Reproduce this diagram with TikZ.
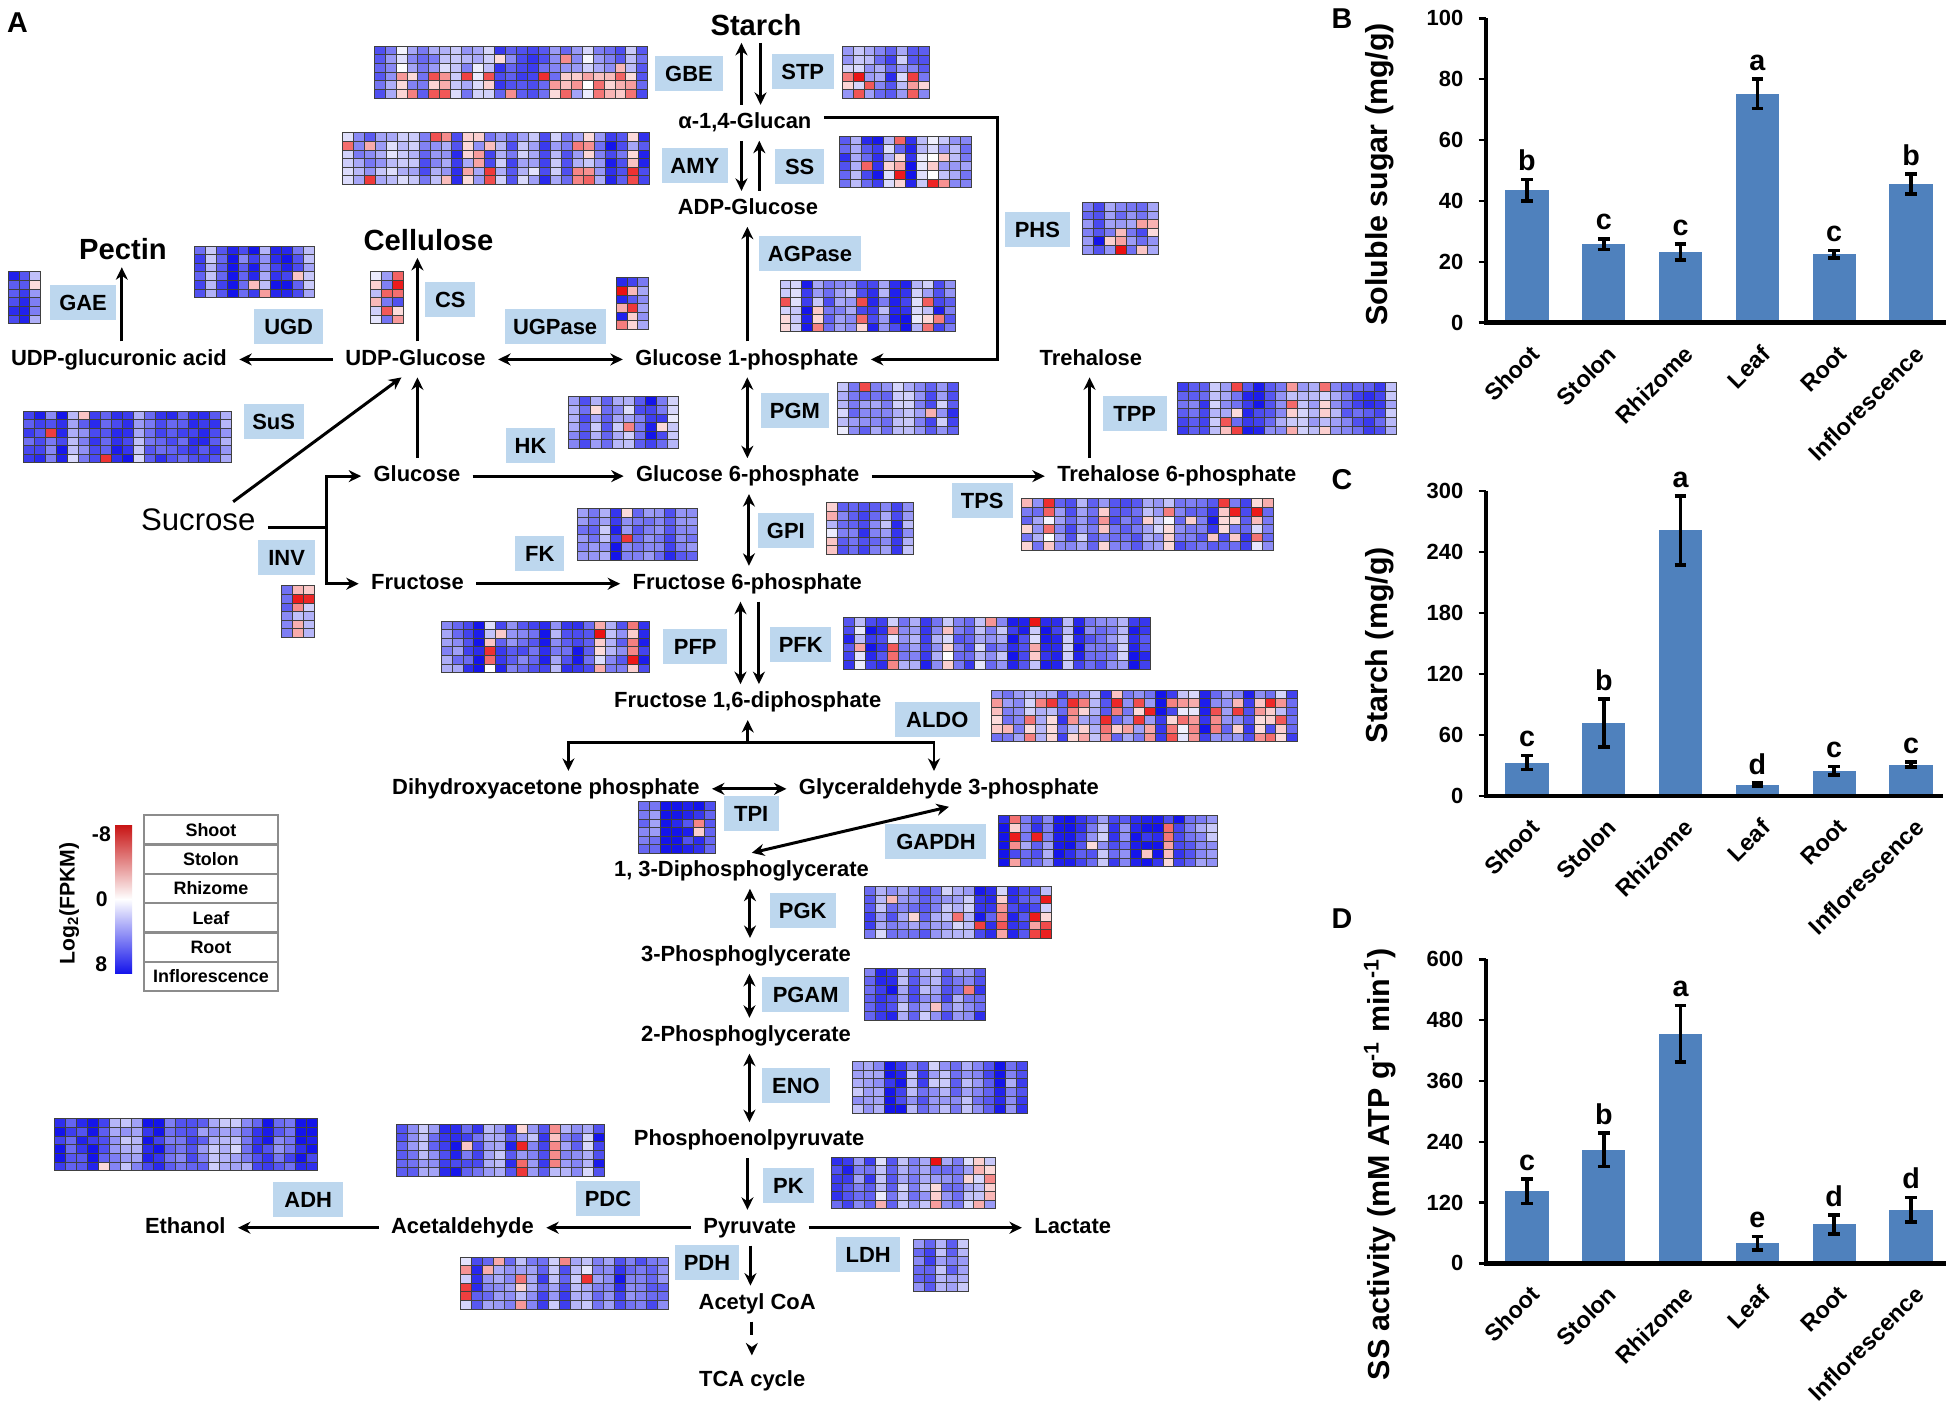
\documentclass[tikz,border=0pt]{standalone}
\usepackage{fontspec}
\setmainfont{Liberation Sans}
\usetikzlibrary{arrows.meta,calc}
\definecolor{hmb}{RGB}{20,20,235}
\definecolor{hmr}{RGB}{235,15,15}
\definecolor{legR}{RGB}{200,20,20}
\definecolor{boxc}{RGB}{189,215,238}
\definecolor{barc}{RGB}{79,129,189}
% heatmap: x, y (top-left), ncols, red-column prob, seed, first red row, blue bias
\newcommand\hmap[7]{%
  \pgfmathsetseed{#5}%
  \foreach \cc in {1,...,#3}{%
    \pgfmathsetmacro\hbase{rnd}%
    \pgfmathsetmacro\hcr{rnd}%
    \pgfmathtruncatemacro\hcolred{\hcr<#4}%
    \foreach \rr in {1,...,6}{%
      \pgfmathsetmacro\hu{rnd}%
      \pgfmathsetmacro\hw{rnd}%
      \pgfmathtruncatemacro\hisred{or(and(\hcolred>0.5,and(\hu<0.6,\rr>#6-0.5)),\hu<0.02)}%
      \pgfmathtruncatemacro\hbi{max(0,min(100,22+#7+72*\hbase+30*(\hw-0.5)-15*\hcolred))}%
      \pgfmathtruncatemacro\hri{15+85*\hw*\hw}%
      \ifnum\hisred=1 \colorlet{hcell}{hmr!\hri!white}\else\colorlet{hcell}{hmb!\hbi!white}\fi
      \filldraw[hmcell,fill=hcell] ({#1+(\cc-1)*8.78},{#2+(\rr-1)*6.92}) rectangle ++(8.78,6.92);%
    }%
  }%
}
% bar: name, cx, zero, scale, value, err, letter
\newcommand\pbar[7]{%
  \fill[barc] ({#2-17.3},#3) rectangle ({#2+17.3},{#3-#4*#5});
  \draw[errb] (#2,{#3-#4*(#5-#6)}) -- (#2,{#3-#4*(#5+#6)});
  \draw[errb] ({#2-4.7},{#3-#4*(#5-#6)}) -- ({#2+4.7},{#3-#4*(#5-#6)});
  \draw[errb] ({#2-4.7},{#3-#4*(#5+#6)}) -- ({#2+4.7},{#3-#4*(#5+#6)});
  \node[sigl] (#1) at (#2,{#3-#4*(#5+#6)-7}) {#7};
}
\begin{document}
\begin{tikzpicture}[x=0.5pt,y=-0.5pt,
  hmcell/.style={draw=black!75,line width=0.3pt},
  met/.style={font=\fontsize{8.8}{10}\selectfont\bfseries,inner sep=0pt,outer xsep=5pt,outer ysep=3pt,anchor=base,yshift=-3.15pt,text height=6.5pt,text depth=1.9pt},
  big/.style={font=\fontsize{11.7}{13}\selectfont\bfseries,inner sep=0pt,outer xsep=5pt,outer ysep=3pt,anchor=base,yshift=-4.2pt,text height=8.6pt,text depth=0pt},
  sucr/.style={font=\fontsize{12.5}{14}\selectfont,inner sep=0pt,outer xsep=5pt,outer ysep=3pt,anchor=base,yshift=-4.5pt,text height=9pt,text depth=0pt},
  enz/.style={fill=boxc,font=\fontsize{8.8}{10}\selectfont\bfseries,minimum height=14pt,inner xsep=1pt,inner ysep=0pt,text height=6.4pt,text depth=0pt},
  arr/.style={line width=1.2pt,-{Stealth[length=5pt,width=4.8pt]}},
  darr/.style={line width=1.2pt,{Stealth[length=5pt,width=4.8pt]}-{Stealth[length=5pt,width=4.8pt]}},
  ln/.style={line width=1.2pt},
  panel/.style={font=\fontsize{11.5}{13}\selectfont\bfseries,inner sep=0pt},
  lgnum/.style={font=\fontsize{8.5}{10}\selectfont\bfseries,inner sep=0pt},
  lgcell/.style={draw=black!45,line width=0.9pt,minimum width=53.5pt,minimum height=11.8pt,inner sep=0pt,font=\fontsize{7.2}{8}\selectfont\bfseries},
  axisl/.style={line width=1.8pt},
  tickl/.style={line width=1pt},
  tickn/.style={font=\fontsize{8.8}{10}\selectfont\bfseries,inner sep=0pt,anchor=east},
  ytitle/.style={font=\fontsize{12.2}{14}\selectfont\bfseries,inner sep=0pt,rotate=90},
  xl/.style={font=\fontsize{9.4}{11}\selectfont\bfseries,inner sep=0pt,rotate=45,anchor=east},
  sigl/.style={font=\fontsize{11.5}{13}\selectfont\bfseries,inner sep=0pt,anchor=base},
  errb/.style={line width=1.5pt}
]
\useasboundingbox (0,0) rectangle (1568,1127);
\fill[white] (0,0) rectangle (1568,1127);

% ---------- heatmaps ----------
\hmap{300}{37}{25}{0.55}{11}{4}{0}
\hmap{675.3}{37.4}{8}{0.5}{12}{4}{0}
\hmap{274.6}{106.4}{28}{0.25}{13}{1}{0}
\hmap{673.5}{109}{12}{0.35}{14}{3}{0}
\hmap{867.9}{162.3}{7}{0.2}{15}{1}{0}
\hmap{625.5}{224.6}{16}{0.35}{16}{3}{0}
\hmap{6.4}{218}{3}{0.1}{17}{1}{0}
\hmap{155.7}{197.3}{11}{0.1}{18}{1}{12}
\hmap{297}{218}{3}{1}{19}{1}{-10}
\hmap{494}{222.7}{3}{0.34}{20}{1}{15}
\hmap{19}{329.7}{19}{0.0}{21}{1}{5}
\hmap{456}{318.2}{10}{0.15}{22}{1}{0}
\hmap{671.7}{307}{11}{0.0}{23}{1}{0}
\hmap{944}{307}{20}{0.12}{24}{1}{0}
\hmap{463}{407.7}{11}{0.12}{25}{1}{5}
\hmap{662.5}{403.2}{8}{0.12}{26}{1}{5}
\hmap{819.3}{400}{23}{0.3}{27}{1}{0}
\hmap{225.6}{469.7}{3}{0.3}{28}{1}{0}
\hmap{353.7}{498}{19}{0.25}{29}{1}{5}
\hmap{676.5}{495.1}{28}{0.2}{30}{1}{0}
\hmap{795}{553.4}{28}{0.55}{31}{2}{5}
\hmap{512.1}{643}{7}{0.1}{32}{1}{20}
\hmap{801}{653.7}{20}{0.05}{33}{1}{10}
\hmap{693.6}{711}{17}{0.15}{34}{1}{0}
\hmap{693.6}{776.5}{11}{0.0}{35}{1}{5}
\hmap{683.3}{851.3}{16}{0.06}{36}{1}{10}
\hmap{666.9}{928}{15}{0.08}{37}{1}{0}
\hmap{732.7}{994.2}{5}{0.2}{38}{1}{0}
\hmap{369.5}{1008.3}{19}{0.05}{39}{1}{0}
\hmap{44}{897.3}{24}{0.1}{40}{1}{5}
\hmap{317.6}{901.8}{19}{0.1}{41}{1}{5}

% ---------- enzyme boxes ----------
\node[enz,minimum width=27pt] (gbe) at (552.6,59.2) {GBE};
\node[enz,minimum width=24.8pt] (stp) at (643.8,57.1) {STP};
\node[enz,minimum width=26.5pt] (amy) at (557.3,132.5) {AMY};
\node[enz,minimum width=19.5pt] (ss) at (641.4,133.7) {SS};
\node[enz,minimum width=41pt] (agp) at (649.7,203.5) {AGPase};
\node[enz,minimum width=26pt] (phs) at (832,183.8) {PHS};
\node[enz,minimum width=26.5pt] (gae) at (66.6,242.4) {GAE};
\node[enz,minimum width=27.5pt] (ugd) at (231.5,261.6) {UGD};
\node[enz,minimum width=20pt] (cs) at (361.2,240) {CS};
\node[enz,minimum width=40.5pt] (ugp) at (445.2,261.6) {UGPase};
\node[enz,minimum width=24pt] (sus) at (219.5,338.2) {SuS};
\node[enz,minimum width=20pt] (hk) at (425.5,357) {HK};
\node[enz,minimum width=27pt] (pgm) at (637.6,329.3) {PGM};
\node[enz,minimum width=25.5pt] (tpp) at (910.1,332) {TPP};
\node[enz,minimum width=23pt] (inv) at (229.9,447.2) {INV};
\node[enz,minimum width=19.5pt] (fk) at (432.9,444) {FK};
\node[enz,minimum width=24.5pt] (tps) at (787.8,401.2) {TPS};
\node[enz,minimum width=22.5pt] (gpi) at (630.3,425.5) {GPI};
\node[enz,minimum width=25.5pt] (pfp) at (557.6,518.4) {PFP};
\node[enz,minimum width=24.5pt] (pfk) at (642.2,517) {PFK};
\node[enz,minimum width=34pt] (aldo) at (751.7,577.2) {ALDO};
\node[enz,minimum width=22pt] (tpi) at (602.5,652.5) {TPI};
\node[enz,minimum width=40.5pt] (gapdh) at (750.7,675.2) {GAPDH};
\node[enz,minimum width=26.5pt] (pgk) at (643.8,730.5) {PGK};
\node[enz,minimum width=35pt] (pgam) at (646.2,797.9) {PGAM};
\node[enz,minimum width=27.5pt] (eno) at (638.4,870.5) {ENO};
\node[enz,minimum width=20.5pt] (pk) at (632.3,950.9) {PK};
\node[enz,minimum width=26pt] (pdc) at (487.6,961.3) {PDC};
\node[enz,minimum width=26pt] (pdh) at (567,1012.7) {PDH};
\node[enz,minimum width=25.5pt] (ldh) at (696.3,1006.4) {LDH};
\node[enz,minimum width=28pt] (adh) at (247.2,961.8) {ADH};

% ---------- metabolites ----------
\node[big] (starch) at (606.3,20) {Starch};
\node[met] (glucan) at (597.4,96.8) {α-1,4-Glucan};
\node[met] (adpg) at (599.9,165.8) {ADP-Glucose};
\node[big] (pectin) at (98.6,200) {Pectin};
\node[big] (cellulose) at (343.7,192.5) {Cellulose};
\node[met] (udpga) at (95.4,286.6) {UDP-glucuronic acid};
\node[met] (udpg) at (333.3,286.6) {UDP-Glucose};
\node[met] (g1p) at (599,286.6) {Glucose 1-phosphate};
\node[met] (treh) at (874.9,286.6) {Trehalose};
\node[sucr] (sucrose) at (159,416.5) {Sucrose};
\node[met] (glucose) at (334.4,380.2) {Glucose};
\node[met] (g6p) at (599.7,380.2) {Glucose 6-phosphate};
\node[met] (t6p) at (943.8,380.2) {Trehalose 6-phosphate};
\node[met] (fructose) at (334.9,466.5) {Fructose};
\node[met] (f6p) at (599.3,466.5) {Fructose 6-phosphate};
\node[met] (f16dp) at (599.7,561.4) {Fructose 1,6-diphosphate};
\node[met] (dhap) at (437.8,631) {Dihydroxyacetone phosphate};
\node[met] (g3p) at (761.1,631) {Glyceraldehyde 3-phosphate};
\node[met] (dpg) at (594.7,696.7) {1, 3-Diphosphoglycerate};
\node[met] (pg3) at (598.3,765) {3-Phosphoglycerate};
\node[met] (pg2) at (598.3,829) {2-Phosphoglycerate};
\node[met] (pep) at (600.9,912.7) {Phosphoenolpyruvate};
\node[met] (pyr) at (601.3,983) {Pyruvate};
\node[met] (lac) at (860.4,983) {Lactate};
\node[met] (acoa) at (607.3,1043.8) {Acetyl CoA};
\node[met] (tca) at (603.3,1105.8) {TCA cycle};
\node[met] (eth) at (148.6,983) {Ethanol};
\node[met] (acet) at (370.9,983) {Acetaldehyde};

% ---------- connectors ----------
\draw[arr] (glucan.north -| 594.7,0) -- (starch.south -| 594.7,0);
\draw[arr] (starch.south -| 610,0) -- (glucan.north -| 610,0);
\draw[arr] (glucan.south -| 594.7,0) -- (adpg.north -| 594.7,0);
\draw[arr] (adpg.north -| 609,0) -- (glucan.south -| 609,0);
\draw[arr] (g1p.north -| 599.4,0) -- (adpg.south -| 599.4,0);
\coordinate (phsc) at (800,94.1);
\draw[arr] (glucan.east |- phsc) -- (phsc) -- (phsc |- g1p.east) -- (g1p.east);
\draw[darr] (g1p.south -| 599.4,0) -- (g6p.north -| 599.4,0);
\draw[arr] (udpg.west) -- (udpga.east);
\draw[arr] (udpga.north -| 97.7,0) -- (pectin.south -| 97.7,0);
\draw[arr] (udpg.north -| 334.8,0) -- (cellulose.south -| 334.8,0);
\draw[darr] (udpg.east) -- (g1p.west);
\draw[arr] (glucose.north -| 334.8,0) -- (udpg.south -| 334.8,0);
\coordinate (susA) at (187,402.4);
\draw[arr] (susA) -- (udpg.south -| 322,0);
\coordinate (invJ) at (262,423.2);
\draw[ln] (sucrose.east |- invJ) -- (invJ);
\draw[arr] (invJ) |- (glucose.west);
\draw[arr] (invJ) |- (fructose.west);
\draw[arr] (glucose.east) -- (g6p.west);
\draw[arr] (fructose.east) -- (f6p.west);
\draw[arr] (g6p.east) -- (t6p.west);
\draw[arr] (t6p.north -| 873.9,0) -- (treh.south -| 873.9,0);
\draw[darr] (g6p.south -| 600.7,0) -- (f6p.north -| 600.7,0);
\draw[darr] (f6p.south -| 593.9,0) -- (f16dp.north -| 593.9,0);
\draw[arr] (f6p.south -| 608.7,0) -- (f16dp.north -| 608.7,0);
\coordinate (aL) at (455.9,595.4);
\coordinate (aR) at (749.1,595.4);
\draw[darr] (dhap.north -| aL) -- (aL) -- (aR) -- (g3p.north -| aR);
\draw[arr] (f16dp.south |- aL) -- (f16dp.south);
\draw[darr] (dhap.east) -- (g3p.west);
\draw[darr] (g3p.south) -- (dpg.north -| 603,0);
\draw[darr] (dpg.south -| 601.5,0) -- (pg3.north -| 601.5,0);
\draw[darr] (pg3.south -| 601.1,0) -- (pg2.north -| 601.1,0);
\draw[darr] (pg2.south -| 601.1,0) -- (pep.north -| 601.1,0);
\draw[arr] (pep.south -| 599.5,0) -- (pyr.north -| 599.5,0);
\draw[arr] (pyr.west) -- (acet.east);
\draw[arr] (acet.west) -- (eth.east);
\draw[arr] (pyr.east) -- (lac.west);
\draw[arr] (pyr.south -| 601.9,0) -- (acoa.north -| 601.9,0);
\draw[arr,dash pattern=on 5.5pt off 10pt] (acoa.south -| 603,0) -- ($(tca.north -| 603,0)+(0,-6)$);

% ---------- legend ----------
\shade[top color=legR,bottom color=white] (92.4,661.7) rectangle (106,721.2);
\shade[top color=white,bottom color=hmb] (92.4,721.2) rectangle (106,780.7);
\node[lgnum] (lgm8) at (81.3,668.8) {-8};
\node[lgnum] (lg0) at (81.6,721.5) {0};
\node[lgnum] (lgp8) at (81.3,773.3) {8};
\node[lgnum,rotate=90] (lglab) at (55.5,724.7) {Log\textsubscript{2}(FPKM)};
\foreach \t [count=\i] in {Shoot,Stolon,Rhizome,Leaf,Root,Inflorescence}{
  \node[lgcell] (lgc\i) at (169.2,{653.7+23.55*(\i-0.5)}) {\t};
}

% ---------- panel letters ----------
\node[panel] (pA) at (14,18) {A};
\node[panel] (pB) at (1076.3,14.7) {B};
\node[panel] (pC) at (1076.3,385) {C};
\node[panel] (pD) at (1076.3,737) {D};

% ---------- panel B ----------
\pbar{sB1}{1224.7}{258.8}{2.441}{43.5}{3.5}{b}
\pbar{sB2}{1286.3}{258.8}{2.441}{25.8}{1.8}{c}
\pbar{sB3}{1347.9}{258.8}{2.441}{23.2}{2.7}{c}
\pbar{sB4}{1409.5}{258.8}{2.441}{75.2}{4.8}{a}
\pbar{sB5}{1471.1}{258.8}{2.441}{22.5}{1.2}{c}
\pbar{sB6}{1532.7}{258.8}{2.441}{45.6}{3.3}{b}
\draw[axisl] (1192,14.7) -- (1192,258.8) -- (1561,258.8);
\foreach \v in {0,20,...,100}{
  \draw[tickl] (1186,{258.8-2.441*\v}) -- (1192,{258.8-2.441*\v});
  \node[tickn] (tB\v) at (1174,{258.8-2.441*\v}) {\v};
}
\node[ytitle] (ytB) at (1106.7,139.7) {Soluble sugar (mg/g)};
\foreach \t [count=\i] in {Shoot,Stolon,Rhizome,Leaf,Root,Inflorescence}{
  \node[xl] (xB\i) at ({1224.7+61.6*(\i-1)+7},280.5) {\t};
}

% ---------- panel C ----------
\pbar{sC1}{1224.7}{638.5}{0.8163}{33}{7}{c}
\pbar{sC2}{1286.3}{638.5}{0.8163}{72}{23.5}{b}
\pbar{sC3}{1347.9}{638.5}{0.8163}{261}{34}{a}
\pbar{sC4}{1409.5}{638.5}{0.8163}{11}{1.5}{d}
\pbar{sC5}{1471.1}{638.5}{0.8163}{25}{4}{c}
\pbar{sC6}{1532.7}{638.5}{0.8163}{31}{2.5}{c}
\draw[axisl] (1192,393.6) -- (1192,638.5) -- (1558,638.5);
\foreach \v in {0,60,...,300}{
  \draw[tickl] (1186,{638.5-0.8163*\v}) -- (1192,{638.5-0.8163*\v});
  \node[tickn] (tC\v) at (1174,{638.5-0.8163*\v}) {\v};
}
\node[ytitle] (ytC) at (1106.7,517.4) {Starch (mg/g)};
\foreach \t [count=\i] in {Shoot,Stolon,Rhizome,Leaf,Root,Inflorescence}{
  \node[xl] (xC\i) at ({1224.7+61.6*(\i-1)+7},660.2) {\t};
}

% ---------- panel D ----------
\pbar{sD1}{1224.7}{1013.3}{0.4065}{142}{24}{c}
\pbar{sD2}{1286.3}{1013.3}{0.4065}{224}{33}{b}
\pbar{sD3}{1347.9}{1013.3}{0.4065}{453}{56}{a}
\pbar{sD4}{1409.5}{1013.3}{0.4065}{40}{13}{e}
\pbar{sD5}{1471.1}{1013.3}{0.4065}{77}{19}{d}
\pbar{sD6}{1532.7}{1013.3}{0.4065}{106}{24}{d}
\draw[axisl] (1192,769.4) -- (1192,1013.3) -- (1561,1013.3);
\foreach \v in {0,120,...,600}{
  \draw[tickl] (1186,{1013.3-0.4065*\v}) -- (1192,{1013.3-0.4065*\v});
  \node[tickn] (tD\v) at (1174,{1013.3-0.4065*\v}) {\v};
}
\node[ytitle] (ytD) at (1106.7,933.7) {SS activity (mM ATP g\textsuperscript{-1} min\textsuperscript{-1})};
\foreach \t [count=\i] in {Shoot,Stolon,Rhizome,Leaf,Root,Inflorescence}{
  \node[xl] (xD\i) at ({1224.7+61.6*(\i-1)+7},1034.5) {\t};
}
\end{tikzpicture}
\end{document}
